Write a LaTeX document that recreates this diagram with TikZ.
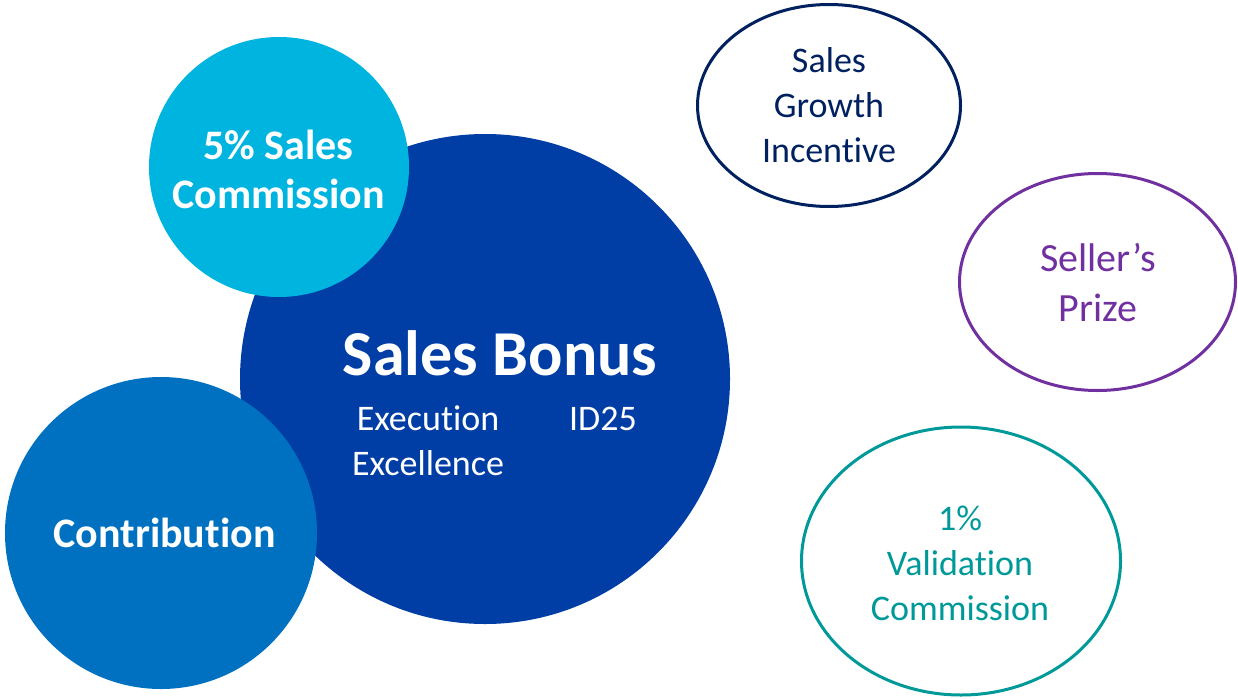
\documentclass[tikz,border=0pt]{standalone}
\usepackage{fontspec}
\setmainfont{Carlito}[Ligatures=NoCommon]
\usetikzlibrary{positioning}

\definecolor{bonusblue}{HTML}{003DA5}
\definecolor{commcyan}{HTML}{00B4E0}
\definecolor{contrblue}{HTML}{0071C1}
\definecolor{growthnavy}{HTML}{002060}
\definecolor{prizepurple}{HTML}{7030A0}
\definecolor{validteal}{HTML}{00999A}

\tikzset{
  oval/.style={line width=3pt},
  boldtext/.style={text=white,font=\bfseries\fontsize{42}{49}\selectfont,align=center,inner sep=0pt},
  bigtext/.style={text=white,font=\bfseries\fontsize{64}{70}\selectfont,inner sep=0pt},
  plaintext/.style={font=\fontsize{36}{45}\selectfont,align=center,inner sep=0pt}
}

\begin{document}
\begin{tikzpicture}[x=1pt,y=-1pt]
        \useasboundingbox (0,0) rectangle (1238,698);

        % filled bubbles
        \fill[bonusblue] (485,379) circle (245);
        \fill[commcyan] (279,167) circle (130);
        \fill[contrblue] (161,533) circle (156);

        % outlined ovals
        \draw[oval,growthnavy] (829,105.5) ellipse (131.5 and 101);
        \draw[oval,prizepurple] (1097.5,282) ellipse (138 and 108.5);
        \draw[oval,validteal] (961,561) ellipse (159.5 and 134);

        \node[bigtext,anchor=base] (bonus) at (500,375) {Sales Bonus};
        \node[plaintext,text=white] (excel) at (428,441) {Execution\\Excellence};
        \node[plaintext,text=white,anchor=base] (idcode) at (603,430) {ID25};
        \node[boldtext] (comm) at (278.5,169) {5\% Sales\\Commission};
        \node[boldtext,anchor=base] (contr) at (164.5,547) {Contribution};

        \node[plaintext,text=growthnavy] (growth) at (829,105.5) {Sales\\Growth\\Incentive};
        \node[plaintext,text=prizepurple,font=\fontsize{40}{50}\selectfont] (prize) at (1098,283) {Seller’s\\Prize};
        \node[plaintext,text=validteal] (valid) at (960,563) {1\%\\Validation\\Commission};
\end{tikzpicture}
\end{document}
